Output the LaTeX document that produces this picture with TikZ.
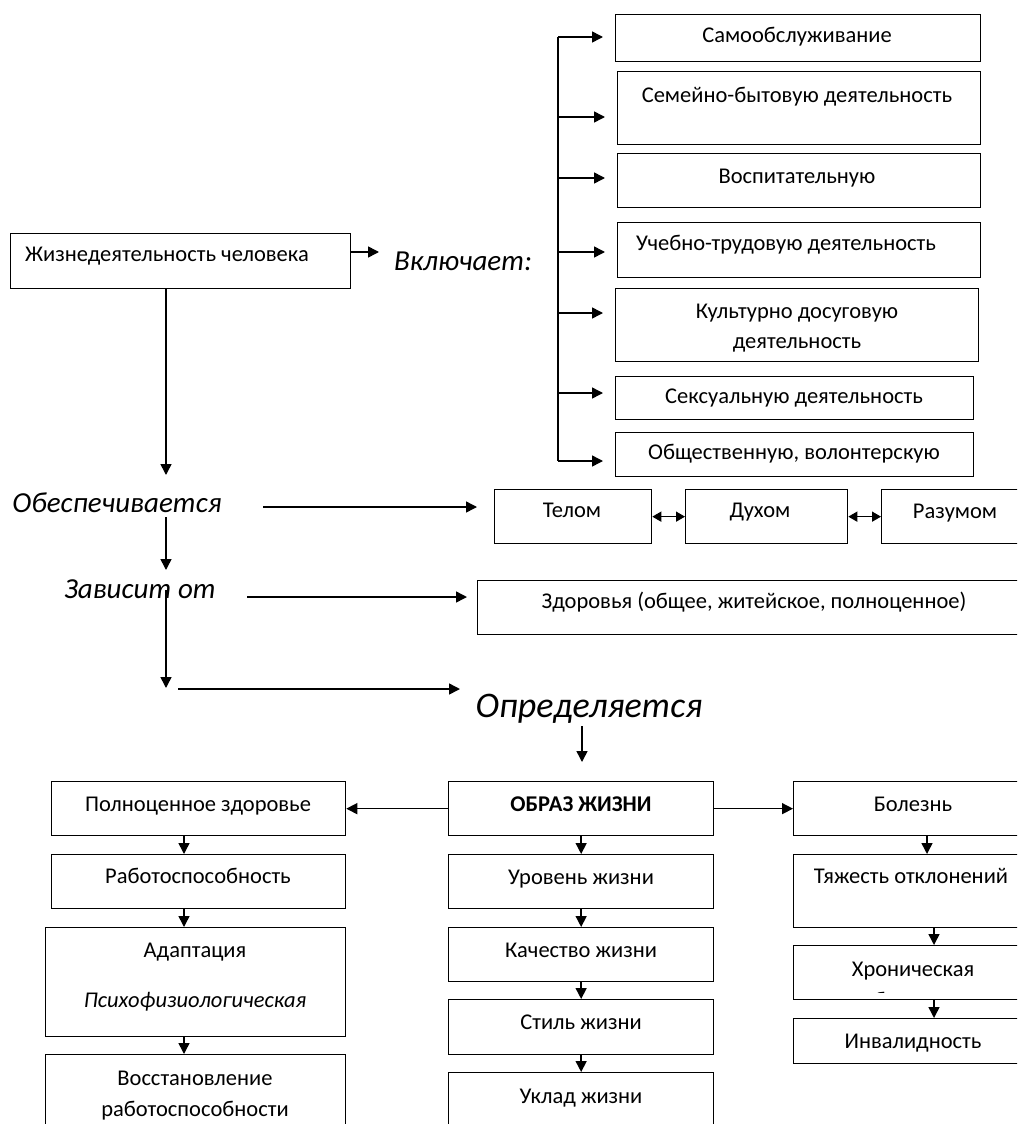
\documentclass[tikz,border=0pt]{standalone}
\usepackage{fontspec}
\setmainfont{Carlito}
\usetikzlibrary{arrows.meta,calc}
\begin{document}
\begin{tikzpicture}[x=1pt,y=-1pt,
  bx/.style={draw=black, line width=1.3pt, anchor=north west, inner sep=0pt, minimum width=#1},
  tx/.style={inner sep=0pt, anchor=base, font=\fontsize{22.5}{27}\selectfont},
  itx/.style={inner sep=0pt, anchor=base, font=\fontsize{29}{33}\selectfont\itshape},
  ln/.style={line width=1.5pt},
  arr/.style={line width=1.5pt, -{Triangle[length=11pt,width=11pt]}},
  dar/.style={line width=1.5pt, {Triangle[length=9pt,width=10pt]}-{Triangle[length=9pt,width=10pt]}}
]
\useasboundingbox (0,0) rectangle (1017,1124);
\clip (0,0) rectangle (1017,1124);

% top-left box
\node[bx=340pt, minimum height=55pt] (zh) at (10,233) {};
\node[tx, anchor=base west] (zht) at (25,261) {Жизнедеятельность человека};
\node[itx] (vk) at (463,270) {Включает:};

% right list
\node[bx=365pt, minimum height=47pt] (b1) at (615,14) {};
\node[bx=363pt, minimum height=73pt] (b2) at (617,71) {};
\node[bx=363pt, minimum height=54pt] (b3) at (617,153) {};
\node[bx=363pt, minimum height=55pt] (b4) at (617,222) {};
\node[bx=363pt, minimum height=73pt] (b5) at (615,288) {};
\node[bx=358pt, minimum height=43pt] (b6) at (615,376) {};
\node[bx=358pt, minimum height=44pt] (b7) at (615,432) {};
\node[tx] (t1) at (797,43) {Самообслуживание};
\node[tx] (t2) at (797,102) {Семейно-бытовую деятельность};
\node[tx] (t3) at (797,183) {Воспитательную};
\node[tx] (t4) at (786,250) {Учебно-трудовую деятельность};
\node[tx] (t5a) at (797,318) {Культурно досуговую};
\node[tx] (t5b) at (797,348) {деятельность};
\node[tx] (t6) at (794,403) {Сексуальную деятельность};
\node[tx] (t7) at (794,459) {Общественную, волонтерскую};

% bracket
\coordinate (k1) at (558,37);
\coordinate (k2) at (558,117);
\coordinate (k3) at (558,178);
\coordinate (k4) at (558,252);
\coordinate (k5) at (558,313);
\coordinate (k6) at (558,393);
\coordinate (k7) at (558,461);
\draw[ln] (k1) -- (k7);
\foreach \k/\b in {k1/b1,k2/b2,k3/b3,k4/b4,k5/b5,k6/b6,k7/b7}
  \draw[arr] (\k) -- ($(\k -| \b.west)+(-12,0)$);

\coordinate (vkin) at (379,252);
\draw[arr] (zh.east |- vkin) -- (vkin);

% middle rows
\node[itx] (ob) at (117,512) {Обеспечивается};
\node[bx=157pt, minimum height=54pt] (tel) at (494,489) {};
\node[bx=162pt, minimum height=54pt] (dux) at (685,489) {};
\node[bx=150pt, minimum height=54pt] (raz) at (881,489) {};
\node[tx] (telt) at (572,517) {Телом};
\node[tx] (duxt) at (760,517) {Духом};
\node[tx] (razt) at (955,518) {Разумом};
\draw[dar] (tel.east) -- (dux.west);
\draw[dar] (dux.east) -- (raz.west);

\node[itx] (zav) at (140,598) {Зависит от};
\node[bx=554pt, minimum height=54pt] (zdr) at (477,580) {};
\node[tx] (zdrt) at (754,608) {Здоровья (общее, житейское, полноценное)};

\node[inner sep=0pt, anchor=base, font=\fontsize{36}{40}\selectfont\itshape] (opr) at (589,717) {Определяется};

\coordinate (obin) at (166,475);
\draw[arr] (zh.south -| obin) -- (obin);
\coordinate (obo) at (263,507);
\coordinate (telin) at (477,507);
\draw[arr] (obo) -- (telin);
\coordinate (zv1) at (166,517);
\coordinate (zv2) at (166,570);
\draw[arr] (zv1) -- (zv2);
\coordinate (zvo) at (247,597);
\coordinate (zdin) at (467,597);
\draw[arr] (zvo) -- (zdin);
\coordinate (zd1) at (166,590);
\coordinate (zd2) at (166,688);
\draw[arr] (zd1) -- (zd2);
\coordinate (op1) at (178,689);
\coordinate (op2) at (460,689);
\draw[arr] (op1) -- (op2);
\coordinate (opd1) at (582,726);
\coordinate (opd2) at (582,762);
\draw[arr] (opd1) -- (opd2);

% bottom centre column
\node[bx=265pt, minimum height=54pt] (obr) at (448,781) {};
\node[bx=265pt, minimum height=54pt] (urov) at (448,854) {};
\node[bx=265pt, minimum height=54pt] (kach) at (448,927) {};
\node[bx=265pt, minimum height=55pt] (stil) at (448,999) {};
\node[bx=265pt, minimum height=68pt] (ukl) at (448,1072) {};
\node[tx, font=\fontsize{22.5}{27}\selectfont\bfseries] (obrt) at (581,811) {ОБРАЗ ЖИЗНИ};
\node[tx] (urovt) at (581,884) {Уровень жизни};
\node[tx] (kacht) at (581,957) {Качество жизни};
\node[tx] (stilt) at (581,1029) {Стиль жизни};
\node[tx] (uklt) at (581,1103) {Уклад жизни};
\draw[arr] (obr.south) -- (urov.north);
\draw[arr] (urov.south) -- (kach.north);
\draw[arr] (kach.south) -- (stil.north);
\draw[arr] (stil.south) -- (ukl.north);

% bottom left column
\node[bx=294pt, minimum height=54pt] (poln) at (51,781) {};
\node[bx=294pt, minimum height=54pt] (rab) at (51,854) {};
\node[bx=300pt, minimum height=109pt] (adap) at (45,927) {};
\node[bx=300pt, minimum height=86pt] (vos) at (45,1054) {};
\node[tx] (polnt) at (198,811) {Полноценное здоровье};
\node[tx] (rabt) at (198,883) {Работоспособность};
\node[tx] (adapt) at (195,957) {Адаптация};
\node[tx, font=\fontsize{22.5}{27}\selectfont\itshape] (psyt) at (195,1007) {Психофизиологическая};
\node[tx] (vosa) at (195,1085) {Восстановление};
\node[tx] (vosb) at (195,1116) {работоспособности};
\coordinate (lc) at (184,0);
\draw[arr] (poln.south -| lc) -- (rab.north -| lc);
\draw[arr] (rab.south -| lc) -- (adap.north -| lc);
\draw[arr] (adap.south -| lc) -- (vos.north -| lc);

% bottom right column
\node[bx=240pt, minimum height=54pt] (bol) at (793,781) {};
\node[bx=240pt, minimum height=73pt] (tya) at (793,854) {};
\node[bx=240pt, minimum height=54pt] (khr) at (793,945) {};
\node[bx=240pt, minimum height=45pt] (inv) at (793,1018) {};
\node[tx] (bolt) at (913,811) {Болезнь};
\node[tx] (tyat) at (911,883) {Тяжесть отклонений};
\node[tx] (khrt) at (913,976) {Хроническая};
\begin{scope}
  \clip (795,947) rectangle (1031,992);
  \node[tx] (khrt2) at (913,1007) {болезнь};
\end{scope}
\node[tx] (invt) at (913,1048) {Инвалидность};
\coordinate (rc1) at (927,0);
\coordinate (rc2) at (934,0);
\draw[arr] (bol.south -| rc1) -- (tya.north -| rc1);
\draw[arr] (tya.south -| rc2) -- (khr.north -| rc2);
\draw[arr] (khr.south -| rc2) -- (inv.north -| rc2);

\draw[arr] (obr.west) -- (poln.east);
\draw[arr] (obr.east) -- (bol.west);
\end{tikzpicture}
\end{document}
